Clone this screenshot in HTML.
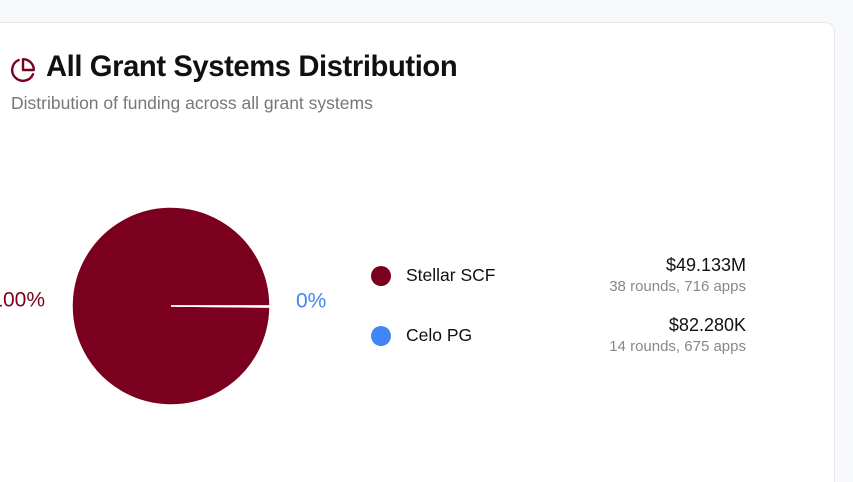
<!DOCTYPE html>
<html><head><meta charset="utf-8"><style>
html,body{margin:0;width:853px;height:482px;overflow:hidden}
body{background:#f8f9fa;font-family:"Liberation Sans",sans-serif;position:relative}
.card{position:absolute;left:-20px;top:22px;width:855px;height:460px;background:#fff;border:1px solid #e5e7eb;border-bottom:none;border-radius:10px 10px 0 0;box-sizing:border-box}
h1{position:absolute;left:46px;top:51px;margin:0;font-size:29.2px;font-weight:700;color:#111;letter-spacing:-0.4px}
.sub{position:absolute;left:11px;top:93px;font-size:17.5px;color:#777}
.row{position:absolute;left:370px;width:376px;height:50px}
.dot{position:absolute;left:1px;width:20px;height:20px;border-radius:50%}
.name{position:absolute;left:36px;font-size:17.5px;color:#111}
.val{position:absolute;right:0;top:-1px;font-size:18px;color:#111;text-align:right}
.meta{position:absolute;right:0;top:22px;font-size:15px;color:#888;white-space:nowrap}
</style></head><body>
<div class="card"></div>
<svg style="position:absolute;left:10px;top:57px" width="26" height="26" viewBox="0 0 24 24"><path d="M21.2 15.9A10 10 0 1 1 8 2.8" fill="none" stroke="#7b0020" stroke-width="2.2" stroke-linecap="round"/><path d="M22 12A10 10 0 0 0 12 2v10z" fill="none" stroke="#7b0020" stroke-width="2.2" stroke-linejoin="round"/></svg>
<h1>All Grant Systems Distribution</h1>
<div class="sub">Distribution of funding across all grant systems</div>
<svg id="pie" style="position:absolute;left:0;top:0" width="360" height="482"></svg>
<div class="row" style="top:256px"><div class="dot" style="top:10px;background:#7b0020"></div><div class="name" style="top:9px">Stellar SCF</div><div class="val">$49.133M</div><div class="meta">38 rounds, 716 apps</div></div>
<div class="row" style="top:316px"><div class="dot" style="top:10px;background:#4285f4"></div><div class="name" style="top:9px">Celo PG</div><div class="val">$82.280K</div><div class="meta">14 rounds, 675 apps</div></div>
<script>
const categories=["Stellar SCF","Celo PG"];
const values=[49133000,82280];
const colors=["#7b0020","#4285f4"];
const svg=document.getElementById('pie');
const NS="http://www.w3.org/2000/svg";
const cx=171,cy=306,R=99;
const total=values.reduce((a,b)=>a+b,0);
let a0=0;
function pt(a,r){return [cx+r*Math.cos(a),cy+r*Math.sin(a)];}
values.forEach((v,i)=>{
  const frac=v/total;
  const a1=a0-frac*2*Math.PI;
  const p=document.createElementNS(NS,'path');
  const [x0,y0]=pt(a0,R),[x1,y1]=pt(a1,R);
  const large=frac>0.5?1:0;
  if(frac>=0.9999){p.setAttribute('d',`M${cx} ${cy}L${x0} ${y0}A${R} ${R} 0 1 0 ${cx-R} ${cy}A${R} ${R} 0 1 0 ${x0} ${y0}Z`);}
  else p.setAttribute('d',`M${cx} ${cy}L${x0} ${y0}A${R} ${R} 0 ${large} 0 ${x1} ${y1}Z`);
  p.setAttribute('fill',colors[i]);p.setAttribute('stroke','#fff');p.setAttribute('stroke-width','1.5');
  
  
  svg.appendChild(p);
  const mid=(a0+a1)/2;
  const right=Math.cos(mid)>=0;
  const [lx,ly]=pt(mid,right?125:126);
  const t=document.createElementNS(NS,'text');
  t.setAttribute('x',lx);t.setAttribute('y',ly+1);
  t.setAttribute('text-anchor',right?'start':'end');
  t.setAttribute('font-size','21');t.setAttribute('fill',colors[i]);
  t.setAttribute('font-family','Liberation Sans, sans-serif');
  t.textContent=Math.round(frac*100)+'%';
  
  
  svg.appendChild(t);
  a0=a1;
});
</script>
</body></html>
